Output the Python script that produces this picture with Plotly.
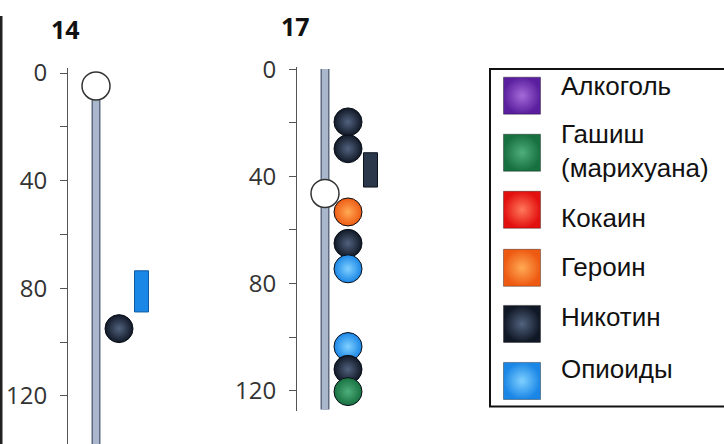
import plotly.graph_objects as go

# ---------------- data ----------------
ages = ["14", "17"]
onset = [4.8, 46.4]                 # white circle (start)
stick_end = [140, 127]              # length of the grey stick

substances = ["Алкоголь", "Гашиш<br>(марихуана)", "Кокаин", "Героин", "Никотин", "Опиоиды"]
keys = ["alcohol", "hashish", "cocaine", "heroin", "nicotine", "opioids"]

dots14_sub = ["nicotine"]
dots14_val = [95]
dots17_sub = ["nicotine", "nicotine", "heroin", "nicotine", "opioids", "opioids", "nicotine", "hashish"]
dots17_val = [19.7, 29.7, 53.3, 65, 74.5, 103.5, 112, 120.3]

bars14_sub = ["opioids"]
bars14_start = [73.5]
bars14_end = [88.8]
bars17_sub = ["nicotine"]
bars17_start = [31.2]
bars17_end = [44.0]

tick_vals = [0, 20, 40, 60, 80, 100, 120]
tick_text = ["0", "", "40", "", "80", "", "120"]

# ---------------- style / layout ----------------
EDGE = {"alcohol": "#5a1f9e", "hashish": "#17703f", "cocaine": "#e31010", "heroin": "#ee5a12",
        "nicotine": "#101826", "opioids": "#1a86e6"}
CENTER = {"alcohol": "#a56ad8", "hashish": "#4fae7c", "cocaine": "#ff7a5a", "heroin": "#ffaa55",
          "nicotine": "#52627e", "opioids": "#7fd0ff"}
LANE_STICK, LANE_DOT, LANE_BAR = 28, 51, 73.5
TICK_FONT = dict(family="Open Sans, Lato, sans-serif", size=24, color="#333333")

W, H = 724, 444
SHIFT, SQUEEZE = 9.0, 0.98     # vertical calibration of the rendered page


def py(pix):
    """screen-pixel row -> paper fraction"""
    return 1 - ((pix - SHIFT) / SQUEEZE) / H


def clamp(v):
    return max(0.0, min(1.0, v))


fig = go.Figure()

panels = [
    dict(x="x", y="y", dots=(dots14_sub, dots14_val), bars=(bars14_sub, bars14_start, bars14_end)),
    dict(x="x2", y="y2", dots=(dots17_sub, dots17_val), bars=(bars17_sub, bars17_start, bars17_end)),
]

for i, p in enumerate(panels):
    fig.add_trace(go.Scatter(x=[LANE_STICK, LANE_STICK], y=[0, stick_end[i]], mode="lines",
                             line=dict(color="#5d6a80", width=9), xaxis=p["x"], yaxis=p["y"],
                             hoverinfo="skip", showlegend=False))
    fig.add_trace(go.Scatter(x=[LANE_STICK, LANE_STICK], y=[0, stick_end[i]], mode="lines",
                             line=dict(color="#a9b6cc", width=6), xaxis=p["x"], yaxis=p["y"],
                             hoverinfo="skip", showlegend=False))
    subs, starts, ends = p["bars"]
    fig.add_trace(go.Bar(x=[LANE_BAR] * len(subs), base=starts,
                         y=[e - s for s, e in zip(starts, ends)], width=14,
                         marker=dict(color=[EDGE[s] if s != "nicotine" else "#2b374a" for s in subs],
                                     line=dict(color=[("#0d5aa0" if s == "opioids" else "#0c121c") for s in subs], width=1)),
                         xaxis=p["x"], yaxis=p["y"], showlegend=False, hoverinfo="skip"))
    subs, vals = p["dots"]
    fig.add_trace(go.Scatter(x=[LANE_DOT] * len(vals), y=vals, mode="markers",
                             marker=dict(size=28, color=[EDGE[s] for s in subs],
                                         gradient=dict(type="radial", color=[CENTER[s] for s in subs]),
                                         line=dict(color="#0a0f18", width=1)),
                             cliponaxis=False, xaxis=p["x"], yaxis=p["y"], showlegend=False))
    fig.add_trace(go.Scatter(x=[LANE_STICK], y=[onset[i]], mode="markers",
                             marker=dict(size=28, color="white", line=dict(color="#333333", width=1.5)),
                             cliponaxis=False, xaxis=p["x"], yaxis=p["y"], showlegend=False))

# legend built in a pixel-unit axis
legend_rows = [90, 148, 206, 265, 322, 380]
fig.add_trace(go.Scatter(x=[522] * len(keys), y=legend_rows, mode="markers",
                         marker=dict(symbol="square", size=37, color=[EDGE[k] for k in keys],
                                     gradient=dict(type="radial", color=[CENTER[k] for k in keys]),
                                     line=dict(color="rgba(0,0,0,0.35)", width=1)),
                         xaxis="x3", yaxis="y3", showlegend=False, hoverinfo="skip"))
label_rows = [83, 149, 217, 267, 318, 370]
fig.add_trace(go.Scatter(x=[561] * len(substances), y=label_rows, mode="text", text=substances,
                         textposition="middle right",
                         textfont=dict(family="Liberation Sans, Arial, sans-serif", size=26, color="#111111"),
                         xaxis="x3", yaxis="y3", showlegend=False, hoverinfo="skip", cliponaxis=False))

yax_common = dict(tickvals=tick_vals, ticktext=tick_text, ticks="outside", ticklen=7,
                  tickcolor="#555555", showline=True, linecolor="#555555", linewidth=1,
                  showgrid=False, zeroline=False, tickfont=TICK_FONT, ticklabelstandoff=8)

fig.update_layout(
    width=W, height=H, margin=dict(l=0, r=0, t=0, b=0, pad=0),
    paper_bgcolor="white", plot_bgcolor="rgba(0,0,0,0)", barmode="overlay",
    xaxis=dict(domain=[68 / W, 198 / W], range=[0, 130], visible=False),
    yaxis=dict(domain=[clamp(py(444)), py(62)], range=[137.84, -1.83], anchor="x", **yax_common),
    xaxis2=dict(domain=[297 / W, 427 / W], range=[0, 130], visible=False),
    yaxis2=dict(domain=[py(411), py(61)], range=[127.7, -0.73], anchor="x2", **yax_common),
    xaxis3=dict(domain=[480 / W, 1], range=[480, 724], visible=False),
    yaxis3=dict(domain=[0, 1], range=[SHIFT + SQUEEZE * H, SHIFT], visible=False, anchor="x3"),
    shapes=[
        dict(type="rect", xref="paper", yref="paper", x0=490 / W, x1=1.02,
             y0=py(406), y1=py(63), line=dict(color="#111111", width=2)),
        dict(type="line", xref="paper", yref="paper", x0=1 / W, x1=1 / W, y0=0, y1=1,
             line=dict(color="#222222", width=3)),
    ],
    annotations=[
        dict(text="<b>" + ages[0] + "</b>", x=65 / W, y=py(22), xref="paper", yref="paper",
             xanchor="center", yanchor="middle", showarrow=False,
             font=dict(family="Open Sans, sans-serif", size=25, color="#111111")),
        dict(text="<b>" + ages[1] + "</b>", x=295 / W, y=py(19), xref="paper", yref="paper",
             xanchor="center", yanchor="middle", showarrow=False,
             font=dict(family="Open Sans, sans-serif", size=25, color="#111111")),
    ],
)

fig.write_html(
    "out.html", config={"responsive": False, "displayModeBar": False},
    post_script=("document.documentElement.style.margin='0';document.body.style.margin='0';"
                 "document.body.style.overflow='hidden';"
                 "var d=document.getElementById('{plot_id}');d.style.position='fixed';"
                 "d.style.top='0px';d.style.left='0px';"),
)
